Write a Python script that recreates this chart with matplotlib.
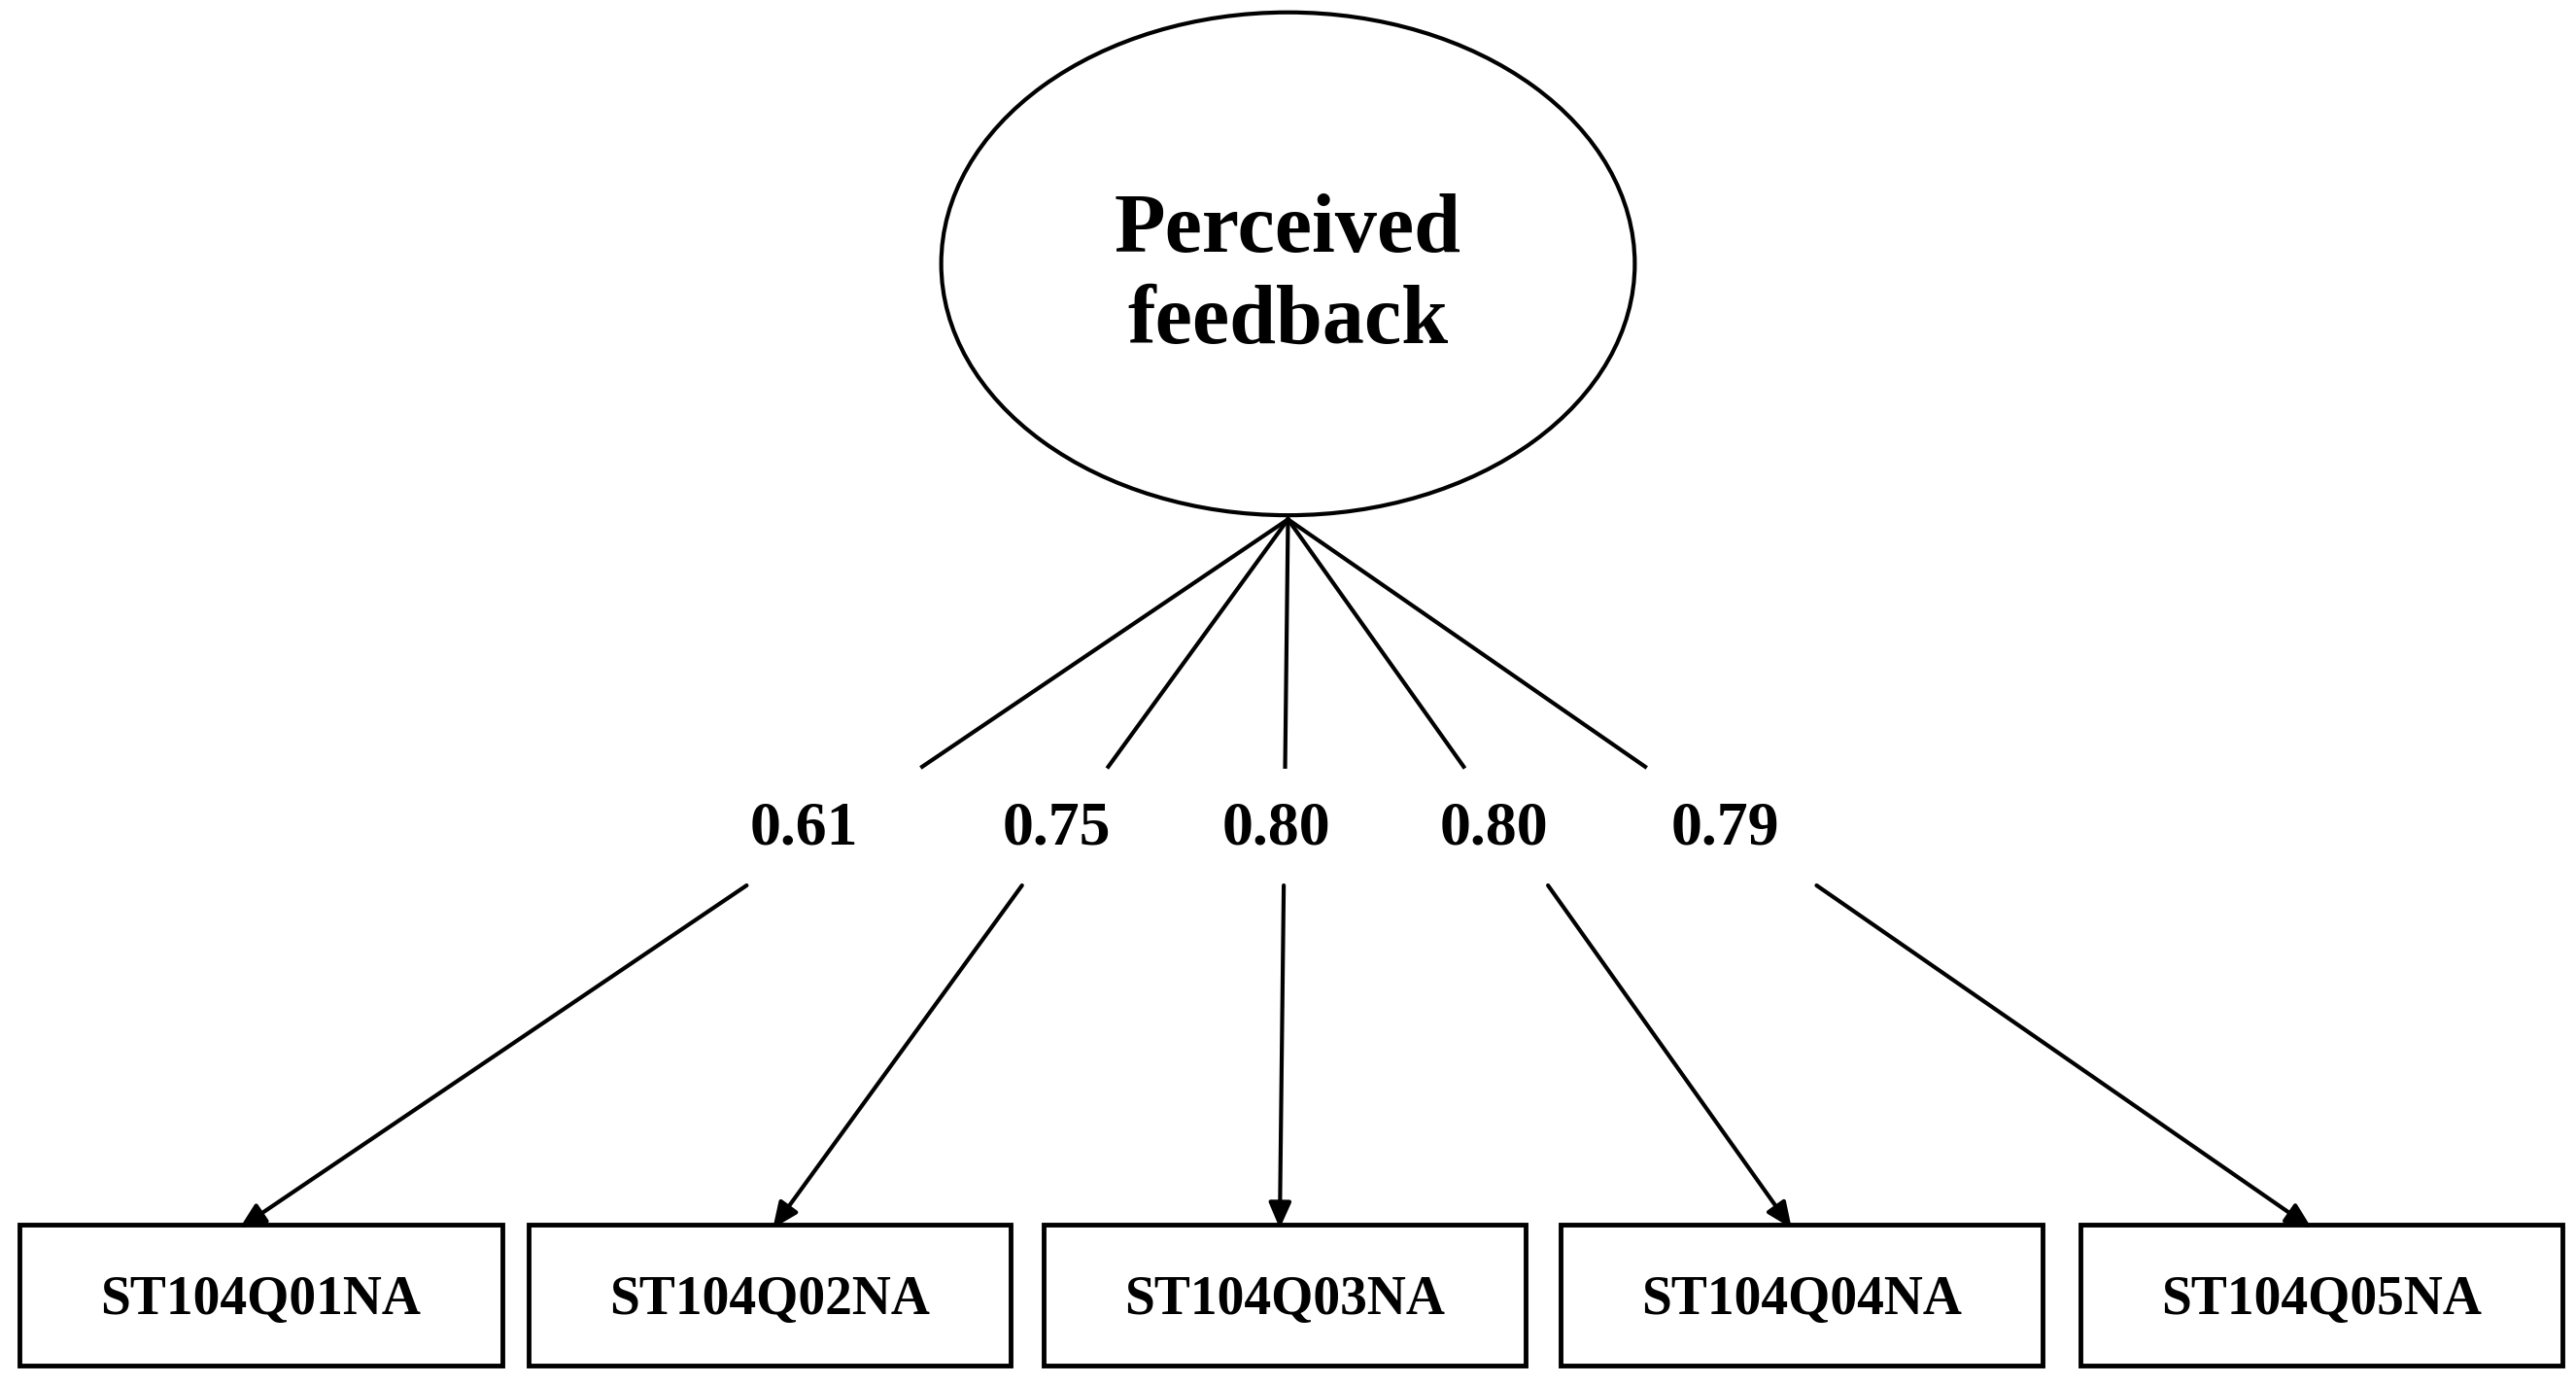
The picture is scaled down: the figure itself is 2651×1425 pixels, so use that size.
import matplotlib.pyplot as plt
from matplotlib.patches import Ellipse, Rectangle

latent = "Perceived\nfeedback"
items = ["ST104Q01NA", "ST104Q02NA", "ST104Q03NA", "ST104Q04NA", "ST104Q05NA"]
loadings = [0.61, 0.75, 0.80, 0.80, 0.79]

# layout in reference pixel space (1560 x 840)
box_x = [12, 320, 632, 945, 1260]
box_w = 292
box_top = 743
box_h = 85
arrow_end_x = [145, 468, 775, 1085, 1400]
label_x = [487, 640, 773, 905, 1045]
apex = (780, 315)

plt.rcParams['font.family'] = ['Liberation Serif', 'DejaVu Serif']
fig = plt.figure(figsize=(26.51, 14.25), dpi=100)
ax = fig.add_axes([0, 0, 1, 1])
ax.set_xlim(0, 1560)
ax.set_ylim(840, 0)
ax.axis('off')

ax.add_patch(Ellipse((780, 160), 420, 305, fill=False, lw=3, ec='black'))
ax.text(780, 168, latent, ha='center', va='center', fontsize=62,
        fontweight='bold', linespacing=1.25)

for i in range(len(items)):
    ex, ey = arrow_end_x[i], box_top + 2
    dx, dy = ex - apex[0], ey - apex[1]
    t1 = (465 - apex[1]) / dy
    t2 = (537 - apex[1]) / dy
    ax.plot([apex[0], apex[0] + dx * t1], [apex[1], apex[1] + dy * t1],
            color='black', lw=3)
    ax.annotate("", xy=(ex, ey), xytext=(apex[0] + dx * t2, apex[1] + dy * t2),
                arrowprops=dict(arrowstyle='-|>,head_length=1.6,head_width=0.7',
                                color='black', lw=3, shrinkA=0, shrinkB=0))
    ax.text(label_x[i], 503, "%.2f" % loadings[i], ha='center', va='center',
            fontsize=46, fontweight='bold')
    ax.add_patch(Rectangle((box_x[i], box_top), box_w, box_h, fill=False,
                           lw=3.5, ec='black'))
    ax.text(box_x[i] + box_w / 2, box_top + box_h / 2 + 3, items[i],
            ha='center', va='center', fontsize=40, fontweight='bold')

fig.savefig("out.png", dpi=100, facecolor='white')
